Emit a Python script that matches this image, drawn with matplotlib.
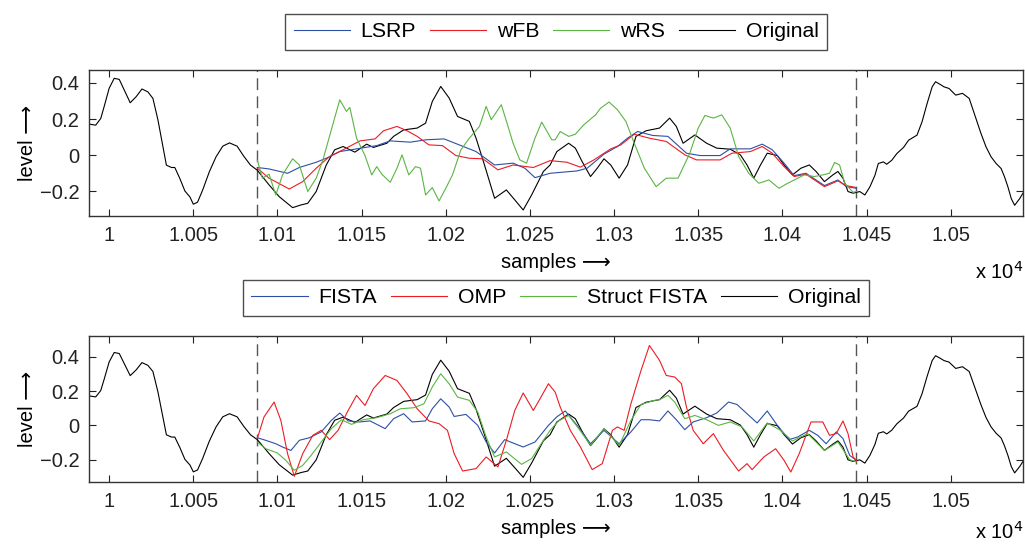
import matplotlib
matplotlib.use("Agg")
import matplotlib.pyplot as plt
import numpy as np

# ================================================
# DATA (samples, level)
# ================================================
orig_x = [9988, 9992, 9995, 9997, 10000, 10003, 10006, 10009, 10012.5, 10016, 10019.5, 10023,
          10026, 10029, 10032, 10034, 10037, 10039, 10042, 10045, 10048, 10050, 10052.5, 10055.5,
          10059.5, 10063.5, 10067.5, 10071.5, 10076, 10080, 10084, 10088, 10095, 10101, 10109, 10114,
          10118, 10123, 10129, 10134, 10139, 10146, 10153, 10157, 10165, 10169, 10175, 10183,
          10188, 10192, 10197, 10202, 10207, 10214, 10218, 10223, 10229, 10236, 10241, 10246,
          10251, 10258, 10262, 10266, 10273, 10277, 10281, 10286, 10290, 10294, 10298, 10303,
          10308, 10313, 10319, 10327, 10333, 10337, 10341, 10348, 10355, 10361, 10369, 10375,
          10379, 10383, 10387, 10391, 10397, 10401, 10406, 10411, 10416, 10420, 10425, 10430,
          10433, 10436, 10439, 10442, 10446, 10449, 10452, 10455, 10457, 10460, 10462, 10465,
          10468, 10472, 10475, 10480, 10483, 10486, 10489, 10491, 10494, 10496, 10499, 10503,
          10507, 10511, 10514, 10518, 10521, 10524, 10527, 10530, 10532, 10534, 10536, 10538,
          10541, 10544]
orig_y = [0.172, 0.166, 0.203, 0.268, 0.37, 0.425, 0.419, 0.36, 0.29, 0.323, 0.366, 0.35,
          0.314, 0.194, 0.046, -0.055, -0.068, -0.068, -0.129, -0.198, -0.231, -0.271, -0.26, -0.194,
          -0.092, -0.009, 0.05, 0.068, 0.05, -0.006, -0.055, -0.083, -0.164, -0.229, -0.29, -0.275,
          -0.266, -0.201, -0.054, 0.03, 0.048, 0.017, 0.061, 0.043, 0.066, 0.104, 0.14, 0.15,
          0.177, 0.297, 0.38, 0.316, 0.214, 0.187, 0.094, -0.054, -0.238, -0.192, -0.247, -0.303,
          -0.22, -0.09, -0.054, 0.02, 0.066, 0.039, -0.035, -0.118, -0.072, -0.02, -0.054, -0.127,
          -0.054, 0.104, 0.135, 0.15, 0.205, 0.159, 0.066, 0.112, 0.066, 0.039, 0.033, 0.002,
          -0.054, -0.127, -0.054, 0.011, -0.002, -0.054, -0.109, -0.072, -0.054, -0.09, -0.146, -0.109,
          -0.09, -0.127, -0.201, -0.21, -0.201, -0.22, -0.175, -0.111, -0.046, -0.037, -0.05, -0.028,
          0.009, 0.043, 0.083, 0.111, 0.185, 0.286, 0.378, 0.406, 0.39, 0.378, 0.369, 0.332,
          0.342, 0.314, 0.231, 0.12, 0.046, -0.009, -0.046, -0.074, -0.12, -0.175, -0.24, -0.277,
          -0.24, -0.194]

# top panel
lsrp_x = [10088, 10095, 10106, 10113, 10123, 10130, 10137, 10147, 10159, 10167, 10179, 10188,
          10199, 10208, 10218, 10229, 10240, 10247, 10253, 10262, 10278, 10284, 10294, 10302,
          10308, 10314, 10323, 10332, 10343, 10351, 10363, 10369, 10381, 10388, 10394, 10401,
          10407, 10414, 10425, 10433, 10438, 10444]
lsrp_y = [-0.068, -0.076, -0.1, -0.068, -0.039, -0.013, 0.02, 0.035, 0.053, 0.079, 0.072, 0.085,
          0.09, 0.057, 0.02, -0.054, -0.044, -0.072, -0.124, -0.1, -0.087, -0.072, 0.006, 0.048,
          0.094, 0.131, 0.109, 0.104, 0.011, -0.002, -0.002, 0.035, 0.035, 0.061, 0.03, -0.044,
          -0.113, -0.1, -0.168, -0.137, -0.174, -0.183]

wfb_x = [10088, 10095, 10107, 10115, 10123, 10131, 10139, 10149, 10158, 10163, 10171, 10177,
         10183, 10190, 10198, 10206, 10214, 10222, 10231, 10240, 10252, 10262, 10272, 10280,
         10288, 10298, 10304, 10312, 10321, 10331, 10342, 10349, 10363, 10370, 10381, 10388,
         10394, 10401, 10407, 10414, 10425, 10433, 10438, 10444]
wfb_y = [-0.072, -0.127, -0.187, -0.146, -0.072, -0.007, 0.03, 0.079, 0.09, 0.135, 0.159, 0.135,
         0.104, 0.057, 0.053, -0.002, -0.017, -0.02, -0.081, -0.054, -0.068, -0.03, -0.039, -0.066,
         -0.026, 0.035, 0.057, 0.116, 0.094, 0.076, 0.002, -0.026, -0.026, 0.011, 0.02, 0.048,
         0.011, -0.063, -0.118, -0.105, -0.174, -0.142, -0.168, -0.179]

wrs_x = [10088, 10091, 10095, 10099, 10103, 10109, 10113, 10118, 10123, 10127, 10132, 10137,
         10141, 10143, 10147, 10152, 10156, 10159, 10162, 10167, 10171, 10174, 10178, 10182,
         10185, 10188, 10192, 10196, 10200, 10204, 10209, 10214, 10220, 10224, 10227, 10233,
         10237, 10240, 10244, 10248, 10253, 10257, 10263, 10265, 10268, 10273, 10277, 10282,
         10289, 10292, 10297, 10302, 10307, 10312, 10318, 10325, 10331, 10338, 10345, 10350,
         10354, 10359, 10364, 10369, 10374, 10380, 10386, 10392, 10398, 10402, 10407, 10413,
         10419, 10424, 10428, 10431, 10434, 10437, 10442, 10444]
wrs_y = [-0.026, -0.127, -0.105, -0.22, -0.109, -0.02, -0.054, -0.201, -0.127, -0.026, 0.14, 0.306,
         0.242, 0.264, 0.094, -0.002, -0.109, -0.063, -0.105, -0.15, -0.072, 0.002, -0.109, -0.063,
         -0.072, -0.22, -0.179, -0.253, -0.183, -0.109, 0.03, 0.094, 0.159, 0.27, 0.196, 0.279,
         0.159, 0.066, -0.026, -0.044, 0.094, 0.183, 0.085, 0.085, 0.131, 0.104, 0.116, 0.168,
         0.223, 0.26, 0.294, 0.251, 0.187, 0.066, -0.072, -0.174, -0.127, -0.127, 0.011, 0.15,
         0.22, 0.205, 0.223, 0.15, -0.007, -0.1, -0.155, -0.137, -0.183, -0.161, -0.137, -0.109,
         -0.118, -0.109, -0.1, -0.04, -0.054, -0.155, -0.205, -0.201]

# bottom panel
fista_x = [10088, 10093, 10099, 10103, 10108, 10113, 10119, 10126, 10132, 10137, 10142, 10149,
           10155, 10159, 10164, 10169, 10175, 10180, 10188, 10192, 10197, 10202, 10205, 10212,
           10219, 10224, 10229, 10235, 10240, 10246, 10253, 10261, 10266, 10271, 10278, 10286,
           10294, 10303, 10310, 10316, 10321, 10327, 10332, 10337, 10342, 10347, 10355, 10361,
           10368, 10373, 10379, 10385, 10391, 10397, 10404, 10409, 10416, 10421, 10426, 10432,
           10436, 10440, 10444]
fista_y = [-0.072, -0.087, -0.107, -0.126, -0.146, -0.087, -0.072, -0.038, 0.029, 0.072, 0.026, 0.02,
           0.026, 0.006, -0.019, 0.039, 0.068, 0.02, 0.026, 0.097, 0.155, 0.107, 0.052, 0.064,
           0.0, -0.097, -0.161, -0.083, -0.103, -0.126, -0.097, 0.0, 0.05, 0.084, 0.0, -0.107,
           -0.029, -0.107, -0.038, 0.033, 0.033, 0.026, 0.084, 0.033, -0.025, 0.02, 0.045, 0.072,
           0.136, 0.122, 0.068, 0.014, 0.084, 0.0, -0.083, -0.068, -0.029, -0.058, -0.107, -0.038,
           -0.077, -0.175, -0.204]

omp_x = [10088, 10092, 10098, 10102, 10106, 10110, 10115, 10121, 10126, 10131, 10136, 10142,
         10147, 10152, 10157, 10164, 10171, 10177, 10183, 10190, 10196, 10201, 10205, 10210,
         10218, 10224, 10231, 10236, 10241, 10246, 10252, 10256, 10261, 10265, 10268, 10274,
         10280, 10287, 10293, 10299, 10302, 10306, 10310, 10316, 10321, 10327, 10331, 10336,
         10340, 10343, 10347, 10353, 10359, 10365, 10374, 10379, 10382, 10389, 10396, 10401,
         10405, 10410, 10417, 10424, 10428, 10432, 10436, 10439, 10442, 10444]
omp_y = [-0.077, 0.049, 0.136, 0.029, -0.165, -0.297, -0.165, -0.058, -0.029, -0.083, -0.029, 0.087,
         0.175, 0.116, 0.214, 0.291, 0.262, 0.185, 0.097, 0.026, 0.01, -0.029, -0.165, -0.266,
         -0.252, -0.184, -0.242, -0.087, 0.087, 0.189, 0.087, 0.155, 0.243, 0.194, 0.107, -0.029,
         -0.126, -0.258, -0.223, -0.029, -0.009, -0.029, 0.126, 0.32, 0.466, 0.379, 0.291, 0.282,
         0.243, 0.107, -0.029, -0.107, -0.048, -0.146, -0.266, -0.223, -0.258, -0.184, -0.136, -0.204,
         -0.272, -0.165, 0.02, 0.02, -0.058, -0.048, 0.026, -0.048, -0.184, -0.204]

sfista_x = [10088, 10093, 10100, 10105, 10110, 10115, 10120, 10126, 10132, 10138, 10144, 10151,
            10159, 10167, 10173, 10181, 10187, 10192, 10197, 10202, 10207, 10214, 10219, 10224,
            10229, 10236, 10245, 10251, 10258, 10262, 10267, 10273, 10279, 10286, 10294, 10303,
            10310, 10316, 10324, 10327, 10332, 10336, 10342, 10348, 10355, 10362, 10369, 10376,
            10383, 10391, 10399, 10406, 10415, 10425, 10433, 10440, 10444]
sfista_y = [-0.097, -0.136, -0.161, -0.204, -0.262, -0.233, -0.175, -0.097, -0.019, 0.033, 0.006, 0.033,
            0.045, 0.068, 0.097, 0.103, 0.126, 0.224, 0.301, 0.243, 0.165, 0.146, 0.078, -0.068,
            -0.184, -0.155, -0.227, -0.194, -0.087, -0.029, 0.026, 0.058, -0.019, -0.116, -0.019, -0.116,
            0.029, 0.122, 0.146, 0.15, 0.175, 0.136, 0.039, 0.058, 0.033, 0.0, 0.02, -0.009,
            -0.091, 0.014, -0.029, -0.091, -0.048, -0.146, -0.097, -0.2, -0.213]

gap = [10088, 10444]
xticks = [1.0, 1.005, 1.01, 1.015, 1.02, 1.025, 1.03, 1.035, 1.04, 1.045, 1.05]
yticks = [-0.2, 0, 0.2, 0.4]

BLUE = "#2d4fa6"
RED = "#ec1c24"
GREEN = "#5bb543"

plt.rcParams["font.family"] = ["Liberation Sans", "DejaVu Sans"]
plt.rcParams["font.size"] = 14.5


def style_axis(ax, ylim, exp_y):
    ax.set_xlim(9988 / 1e4, 10543 / 1e4)
    ax.set_ylim(*ylim)
    ax.set_xticks(xticks)
    ax.set_xticklabels(["%g" % t for t in xticks])
    ax.set_yticks(yticks)
    ax.set_yticklabels(["\u22120.2", "0", "0.2", "0.4"])
    ax.tick_params(direction="in", top=True, right=True, length=5, width=0.8,
                   labelsize=14.5, colors="#222222", pad=7)
    for s in ax.spines.values():
        s.set_color("#333333")
        s.set_linewidth(1.0)
    for g in gap:
        ax.axvline(g / 1e4, color="#555555", ls=(0, (8.5, 4.5)), lw=1.0, zorder=1)
    # long arrow comes from DejaVu Sans (fallback in the family list)
    ax.set_xlabel("samples \u27f6", fontsize=14.5, labelpad=6)
    ax.set_ylabel("level \u27f6", fontsize=14.5, labelpad=2)
    ax.text(1.0, exp_y, "x 10$^4$", transform=ax.transAxes, ha="right", va="top",
            fontsize=14.5)


fig = plt.figure(figsize=(10.25, 5.44), dpi=100)
ax1 = fig.add_axes([0.0868, 0.603, 0.9113, 0.268])
ax2 = fig.add_axes([0.0868, 0.114, 0.9113, 0.268])

ox = np.array(orig_x) / 1e4
lw = 0.8

ax1.plot(np.array(lsrp_x) / 1e4, lsrp_y, color=BLUE, lw=lw, label="LSRP", zorder=3)
ax1.plot(np.array(wfb_x) / 1e4, wfb_y, color=RED, lw=lw, label="wFB", zorder=3)
ax1.plot(np.array(wrs_x) / 1e4, wrs_y, color=GREEN, lw=lw, label="wRS", zorder=3)
ax1.plot(ox, orig_y, color="black", lw=lw, label="Original", zorder=2)
style_axis(ax1, (-0.336, 0.47), -0.31)

ax2.plot(np.array(fista_x) / 1e4, fista_y, color=BLUE, lw=lw, label="FISTA", zorder=3)
ax2.plot(np.array(omp_x) / 1e4, omp_y, color=RED, lw=lw, label="OMP", zorder=3)
ax2.plot(np.array(sfista_x) / 1e4, sfista_y, color=GREEN, lw=lw, label="Struct FISTA", zorder=3)
ax2.plot(ox, orig_y, color="black", lw=lw, label="Original", zorder=2)
style_axis(ax2, (-0.33, 0.52), -0.27)

for ax in (ax1, ax2):
    leg = ax.legend(loc="lower center", bbox_to_anchor=(0.5, 1.14), ncol=4, frameon=True,
                    fancybox=False, edgecolor="#222222", fontsize=15.3, handlelength=2.65,
                    handletextpad=0.5, columnspacing=0.65, borderpad=0.4, borderaxespad=0)
    leg.get_frame().set_linewidth(1.0)

fig.savefig("out.png", dpi=100)
